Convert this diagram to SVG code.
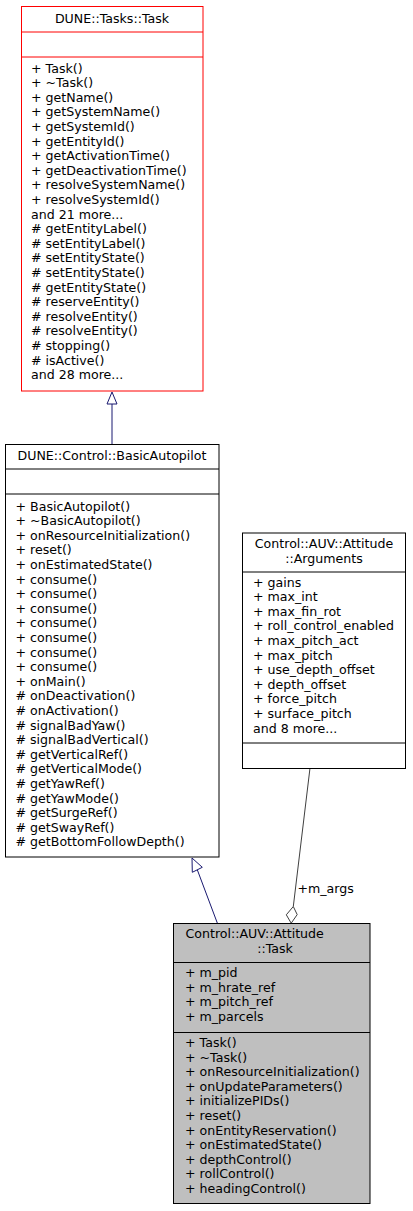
<svg xmlns="http://www.w3.org/2000/svg" width="413" height="1211" viewBox="0 0 413 1211">
<style>
text{font-family:"DejaVu Sans","Liberation Sans",sans-serif;font-size:12.6px;fill:#000}
.t{text-anchor:middle}
.box{fill:#fff;stroke:#000;stroke-width:1}
.red{stroke:#ff0000}
.cur{fill:#bfbfbf}
.sep{stroke:#000;stroke-width:1}
.sepr{stroke:#ff0000;stroke-width:1}
.inh{stroke:#191970;stroke-width:1;fill:none}
.agg{stroke:#404040;stroke-width:1;fill:none}
</style>
<rect width="413" height="1211" fill="#fff"/>
<g id="connectors">
  <line class="inh" x1="112" y1="404" x2="112" y2="444"/>
  <polygon class="inh" fill="#fff" points="112,392 117,404 107,404" style="fill:#fff"/>
  <line class="inh" x1="197.3" y1="869.8" x2="217.3" y2="923"/>
  <polygon class="inh" points="192,858 192.3,872.3 202.3,867.3" style="fill:#fff"/>
  <line class="agg" x1="310" y1="768" x2="293.3" y2="906.5"/>
  <polygon class="agg" points="291.2,923.2 286.3,914.8 293.3,906.5 297.2,914.6" style="fill:#fff"/>
  <text x="297.5" y="893">+m_args</text>
</g>
<g id="node_task_base">
  <rect class="box red" x="21.5" y="6.5" width="181.5" height="384.5"/>
  <line class="sepr" x1="21.5" y1="32" x2="203" y2="32"/>
  <line class="sepr" x1="21.5" y1="57" x2="203" y2="57"/>
  <text class="t" x="112" y="23">DUNE::Tasks::Task</text>
  <text x="31" y="72.5">+ Task()</text>
  <text x="31" y="87.1">+ ~Task()</text>
  <text x="31" y="101.7">+ getName()</text>
  <text x="31" y="116.3">+ getSystemName()</text>
  <text x="31" y="130.9">+ getSystemId()</text>
  <text x="31" y="145.5">+ getEntityId()</text>
  <text x="31" y="160.1">+ getActivationTime()</text>
  <text x="31" y="174.7">+ getDeactivationTime()</text>
  <text x="31" y="189.3">+ resolveSystemName()</text>
  <text x="31" y="203.9">+ resolveSystemId()</text>
  <text x="31" y="218.5">and 21 more...</text>
  <text x="31" y="233.1"># getEntityLabel()</text>
  <text x="31" y="247.7"># setEntityLabel()</text>
  <text x="31" y="262.3"># setEntityState()</text>
  <text x="31" y="276.9"># setEntityState()</text>
  <text x="31" y="291.5"># getEntityState()</text>
  <text x="31" y="306.1"># reserveEntity()</text>
  <text x="31" y="320.7"># resolveEntity()</text>
  <text x="31" y="335.3"># resolveEntity()</text>
  <text x="31" y="349.9"># stopping()</text>
  <text x="31" y="364.5"># isActive()</text>
  <text x="31" y="379.1">and 28 more...</text>
</g>
<g id="node_basic_autopilot">
  <rect class="box" x="5.5" y="444.5" width="213.5" height="412.5"/>
  <line class="sep" x1="5.5" y1="469" x2="219" y2="469"/>
  <line class="sep" x1="5.5" y1="494" x2="219" y2="494"/>
  <text class="t" x="112" y="459.5">DUNE::Control::BasicAutopilot</text>
  <text x="15.5" y="510.5">+ BasicAutopilot()</text>
  <text x="15.5" y="525.1">+ ~BasicAutopilot()</text>
  <text x="15.5" y="539.7">+ onResourceInitialization()</text>
  <text x="15.5" y="554.3">+ reset()</text>
  <text x="15.5" y="568.9">+ onEstimatedState()</text>
  <text x="15.5" y="583.5">+ consume()</text>
  <text x="15.5" y="598.1">+ consume()</text>
  <text x="15.5" y="612.7">+ consume()</text>
  <text x="15.5" y="627.3">+ consume()</text>
  <text x="15.5" y="641.9">+ consume()</text>
  <text x="15.5" y="656.5">+ consume()</text>
  <text x="15.5" y="671.1">+ consume()</text>
  <text x="15.5" y="685.7">+ onMain()</text>
  <text x="15.5" y="700.3"># onDeactivation()</text>
  <text x="15.5" y="714.9"># onActivation()</text>
  <text x="15.5" y="729.5"># signalBadYaw()</text>
  <text x="15.5" y="744.1"># signalBadVertical()</text>
  <text x="15.5" y="758.7"># getVerticalRef()</text>
  <text x="15.5" y="773.3"># getVerticalMode()</text>
  <text x="15.5" y="787.9"># getYawRef()</text>
  <text x="15.5" y="802.5"># getYawMode()</text>
  <text x="15.5" y="817.1"># getSurgeRef()</text>
  <text x="15.5" y="831.7"># getSwayRef()</text>
  <text x="15.5" y="846.3"># getBottomFollowDepth()</text>
</g>
<g id="node_arguments">
  <rect class="box" x="242.5" y="533" width="163" height="235.5"/>
  <line class="sep" x1="242.5" y1="572" x2="405.5" y2="572"/>
  <line class="sep" x1="242.5" y1="743" x2="405.5" y2="743"/>
  <text class="t" x="324" y="548">Control::AUV::Attitude</text>
  <text class="t" x="324" y="562.5">::Arguments</text>
  <text x="253" y="586.5">+ gains</text>
  <text x="253" y="601.1">+ max_int</text>
  <text x="253" y="615.7">+ max_fin_rot</text>
  <text x="253" y="630.3">+ roll_control_enabled</text>
  <text x="253" y="644.9">+ max_pitch_act</text>
  <text x="253" y="659.5">+ max_pitch</text>
  <text x="253" y="674.1">+ use_depth_offset</text>
  <text x="253" y="688.7">+ depth_offset</text>
  <text x="253" y="703.3">+ force_pitch</text>
  <text x="253" y="717.9">+ surface_pitch</text>
  <text x="253" y="732.5">and 8 more...</text>
</g>
<g id="node_attitude_task">
  <rect class="box cur" x="173.5" y="923.5" width="196.5" height="280"/>
  <line class="sep" x1="173.5" y1="962.5" x2="370" y2="962.5"/>
  <line class="sep" x1="173.5" y1="1032.5" x2="370" y2="1032.5"/>
  <text x="185.5" y="938">Control::AUV::Attitude</text>
  <text class="t" x="275" y="952.6">::Task</text>
  <text x="185" y="977">+ m_pid</text>
  <text x="185" y="991.6">+ m_hrate_ref</text>
  <text x="185" y="1006.2">+ m_pitch_ref</text>
  <text x="185" y="1020.8">+ m_parcels</text>
  <text x="185" y="1047">+ Task()</text>
  <text x="185" y="1061.6">+ ~Task()</text>
  <text x="185" y="1076.2">+ onResourceInitialization()</text>
  <text x="185" y="1090.8">+ onUpdateParameters()</text>
  <text x="185" y="1105.4">+ initializePIDs()</text>
  <text x="185" y="1120">+ reset()</text>
  <text x="185" y="1134.6">+ onEntityReservation()</text>
  <text x="185" y="1149.2">+ onEstimatedState()</text>
  <text x="185" y="1163.8">+ depthControl()</text>
  <text x="185" y="1178.4">+ rollControl()</text>
  <text x="185" y="1193">+ headingControl()</text>
</g>
</svg>
